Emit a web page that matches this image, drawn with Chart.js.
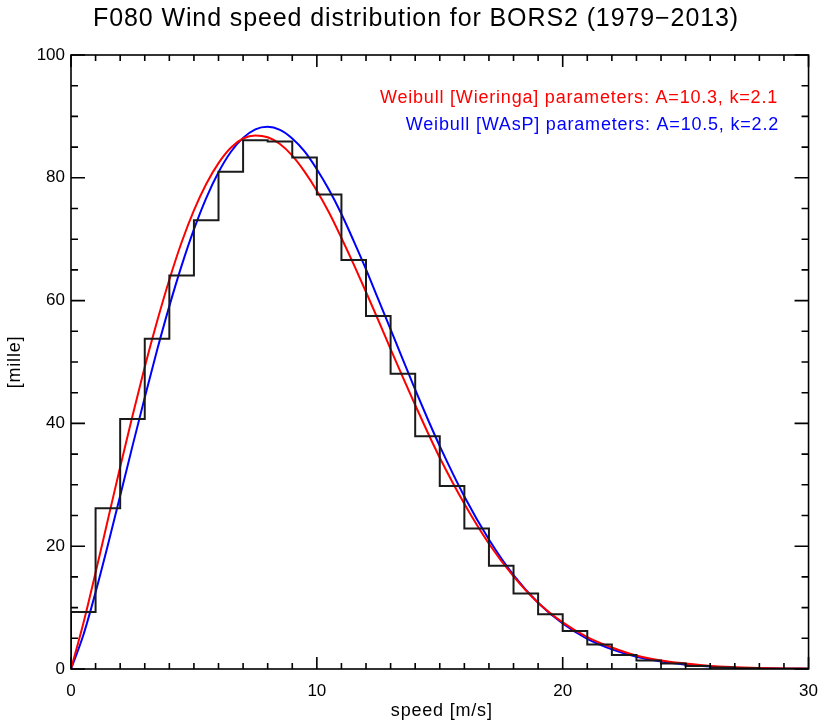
<!DOCTYPE html>
<html>
<head>
<meta charset="utf-8">
<script src="https://cdn.jsdelivr.net/npm/chart.js@4.4.1/dist/chart.umd.min.js"></script>
<style>
  html, body { margin: 0; padding: 0; background: #fff; }
  #wrap { width: 830px; height: 724px; }
</style>
</head>
<body>
<div id="wrap"><canvas id="chart" width="830" height="724"></canvas></div>
<script>
// Histogram: bins of 1 m/s, from 0-1 up to 29-30 (mille)
const binEdges = [0,1,2,3,4,5,6,7,8,9,10,11,12,13,14,15,16,17,18,19,20,21,22,23,24,25,26,27,28,29,30];
const binValues = [9.3, 26.2, 40.7, 53.8, 64.1, 73.1, 81.0, 86.1, 85.9, 83.3,
                   77.3, 66.6, 57.5, 48.1, 37.9, 29.8, 22.9, 16.8, 12.3, 8.9,
                   6.2, 4.0, 2.3, 1.4, 0.9, 0.5, 0.25, 0.12, 0.06, 0.03];

// Weibull curves
const curveX = [0,0.5,1,1.5,2,2.5,3,3.5,4,4.5,5,5.5,6,6.5,7,7.5,8,8.5,9,9.5,10,10.5,11,11.5,12,12.5,13,13.5,14,14.5,15,
                16,17,18,19,20,21,22,23,24,25,26,27,28,29,30];
const wieringa = [0,7.4,15.7,24.3,32.9,41.2,49.2,56.6,63.4,69.5,74.7,79.0,82.4,84.9,86.4,86.9,86.6,85.5,83.6,81.0,77.9,74.3,70.2,65.9,61.4,56.8,52.1,47.5,43.0,38.6,34.4,
                  26.9,20.4,15.1,10.8,7.6,5.2,3.5,2.2,1.4,0.9,0.5,0.3,0.17,0.09,0.05];
const wasp = [0,5.5,12.5,20.2,28.2,36.3,44.2,51.9,59.1,65.7,71.6,76.7,80.9,84.2,86.5,87.9,88.3,87.8,86.4,84.3,81.4,78.0,74.1,69.7,65.1,60.2,55.3,50.4,45.5,40.8,36.3,
              28.1,21.1,15.3,10.8,7.4,4.9,3.2,2.0,1.2,0.7,0.4,0.2,0.11,0.05,0.03];

const xTicks = [0, 10, 20, 30];
const yTicks = [0, 20, 40, 60, 80, 100];

const TITLE = "F080 Wind speed distribution for BORS2 (1979\u22122013)";
const FONT = "'Liberation Sans', Arial, Helvetica, sans-serif";

// step line: each bin value spans [edge, edge+1]
const histData = [{ x: 0, y: 0 }, { x: 0, y: binValues[0] }];
binEdges.slice(1).forEach((e, i) => histData.push({ x: e, y: binValues[Math.min(i + 1, binValues.length - 1)] }));
const pts = (ys) => curveX.map((x, i) => ({ x, y: ys[i] }));

// frame, inward ticks on all four sides, title, axis titles and legend text
const decor = {
  id: "decor",
  afterDraw(c) {
    const ctx = c.ctx, a = c.chartArea, xs = c.scales.x, ys = c.scales.y;
    ctx.save();
    ctx.strokeStyle = "#000";
    ctx.lineWidth = 1.6;
    ctx.strokeRect(a.left, a.top, a.right - a.left, a.bottom - a.top);
    ctx.beginPath();
    for (let v = 0; v <= 30; v++) {
      const px = xs.getPixelForValue(v);
      const len = v % 10 === 0 ? 12 : 6;
      ctx.moveTo(px, a.bottom); ctx.lineTo(px, a.bottom - len);
      ctx.moveTo(px, a.top); ctx.lineTo(px, a.top + len);
    }
    for (let v = 0; v <= 100; v += 5) {
      const py = ys.getPixelForValue(v);
      const len = v % 20 === 0 ? 14 : 7;
      ctx.moveTo(a.left, py); ctx.lineTo(a.left + len, py);
      ctx.moveTo(a.right, py); ctx.lineTo(a.right - len, py);
    }
    ctx.stroke();

    ctx.fillStyle = "#000";
    ctx.textAlign = "center";
    ctx.textBaseline = "middle";
    ctx.letterSpacing = "0.9px";
    ctx.font = "25px " + FONT;
    ctx.fillText(TITLE, 416, 19);
    ctx.letterSpacing = "0.8px";
    ctx.font = "18px " + FONT;
    ctx.fillText("speed [m/s]", (a.left + a.right) / 2 + 2, 711);
    ctx.save();
    ctx.translate(15, (a.top + a.bottom) / 2);
    ctx.rotate(-Math.PI / 2);
    ctx.fillText("[mille]", 0, 0);
    ctx.restore();

    ctx.textAlign = "right";
    ctx.fillStyle = "#ff0000";
    ctx.fillText("Weibull [Wieringa] parameters: A=10.3, k=2.1", 778, 98);
    ctx.fillStyle = "#0000ff";
    ctx.fillText("Weibull [WAsP] parameters: A=10.5, k=2.2", 779, 125);
    ctx.restore();
  }
};

new Chart(document.getElementById("chart"), {
  type: "line",
  data: {
    datasets: [
      { label: "hist", data: histData, stepped: "before", borderColor: "#1a1a1a", borderWidth: 2, pointRadius: 0, fill: false },
      { label: "Wieringa", data: pts(wieringa), borderColor: "#ff0000", borderWidth: 2, pointRadius: 0, cubicInterpolationMode: "monotone", fill: false },
      { label: "WAsP", data: pts(wasp), borderColor: "#0000ff", borderWidth: 2, pointRadius: 0, cubicInterpolationMode: "monotone", fill: false },
    ],
  },
  options: {
    responsive: false,
    animation: false,
    devicePixelRatio: 1,
    layout: { padding: { top: 55, right: 13, left: 0, bottom: 0 } },
    plugins: { legend: { display: false }, tooltip: { enabled: false }, title: { display: false } },
    scales: {
      x: {
        type: "linear", min: 0, max: 30,
        afterFit: (s) => { s.height = 55; },
        afterBuildTicks: (s) => { s.ticks = xTicks.map(v => ({ value: v })); },
        grid: { display: false, drawTicks: false },
        border: { display: false },
        ticks: { padding: 12, color: "#000", font: { family: FONT, size: 17 }, maxRotation: 0 },
      },
      y: {
        type: "linear", min: 0, max: 100,
        afterFit: (s) => { s.width = 71; },
        afterBuildTicks: (s) => { s.ticks = yTicks.map(v => ({ value: v })); },
        grid: { display: false, drawTicks: false },
        border: { display: false },
        ticks: { padding: 6, color: "#000", font: { family: FONT, size: 17 } },
      },
    },
  },
  plugins: [decor],
});
</script>
</body>
</html>
